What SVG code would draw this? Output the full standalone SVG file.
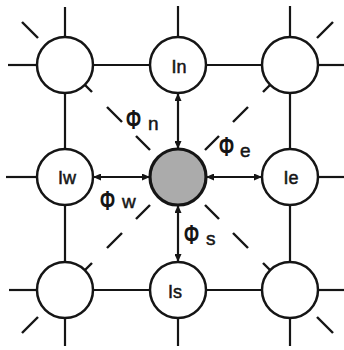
<svg xmlns="http://www.w3.org/2000/svg" width="344" height="350" viewBox="0 0 344 350">
  <style>
    .ring { fill: #ffffff; stroke: #151515; stroke-width: 2.5; }
    .hub { fill: #ababab; stroke: #151515; stroke-width: 3.2; }
    .edge { stroke: #151515; stroke-width: 2.2; fill: none; }
    .flux { stroke: #151515; stroke-width: 2.2; fill: none; marker-start: url(#tip); marker-end: url(#tip); }
    .dash { stroke: #151515; stroke-width: 2.4; stroke-linecap: butt; }
    .lbl { font-family: "Liberation Sans", Arial, sans-serif; font-size: 18px; fill: #151515; stroke: #151515; stroke-width: 0.5; text-anchor: middle; }
    .phi { font-family: "Liberation Sans", Arial, sans-serif; font-size: 27px; font-weight: bold; fill: #151515; }
    .sub { font-family: "Liberation Sans", Arial, sans-serif; font-size: 19px; fill: #151515; stroke: #151515; stroke-width: 0.5; }
  </style>
  <defs>
    <marker id="tip" viewBox="0 0 8 7" refX="8" refY="3.5" markerWidth="8" markerHeight="7" markerUnits="userSpaceOnUse" orient="auto-start-reverse">
      <path d="M0,0 L8,3.5 L0,7 z" fill="#151515"/>
    </marker>
  </defs>
  <rect width="344" height="350" fill="#ffffff"/>

  <!-- grid connectors, outer stubs and diagonal dashes -->
  <g id="connectors">
    <!-- grid lines between neighbours -->
    <line class="edge" x1="93" y1="65" x2="150" y2="65"/>
    <line class="edge" x1="206" y1="65" x2="262" y2="65"/>
    <line class="edge" x1="93" y1="290" x2="150" y2="290"/>
    <line class="edge" x1="206" y1="290" x2="262" y2="290"/>
    <line class="edge" x1="65" y1="93" x2="65" y2="149"/>
    <line class="edge" x1="65" y1="205" x2="65" y2="262"/>
    <line class="edge" x1="290" y1="93" x2="290" y2="149"/>
    <line class="edge" x1="290" y1="205" x2="290" y2="262"/>
    <!-- outer stubs -->
    <line class="edge" x1="65" y1="7" x2="65" y2="37"/>
    <line class="edge" x1="8" y1="65" x2="37" y2="65"/>
    <line class="edge" x1="178" y1="6" x2="178" y2="37"/>
    <line class="edge" x1="290" y1="6" x2="290" y2="37"/>
    <line class="edge" x1="318" y1="65" x2="344" y2="65"/>
    <line class="edge" x1="6" y1="177" x2="37" y2="177"/>
    <line class="edge" x1="318" y1="177" x2="344" y2="177"/>
    <line class="edge" x1="9" y1="290" x2="37" y2="290"/>
    <line class="edge" x1="65" y1="318" x2="65" y2="346"/>
    <line class="edge" x1="178" y1="318" x2="178" y2="346"/>
    <line class="edge" x1="290" y1="318" x2="290" y2="346"/>
    <line class="edge" x1="318" y1="290" x2="344" y2="290"/>
    <!-- flux arrows to the central cell -->
    <line class="flux" x1="178" y1="93" x2="178" y2="149"/>
    <line class="flux" x1="178" y1="262" x2="178" y2="205"/>
    <line class="flux" x1="93" y1="177" x2="150" y2="177"/>
    <line class="flux" x1="262" y1="177" x2="206" y2="177"/>
    <!-- diagonal dashes, top-left -->
    <line class="dash" x1="38" y1="38" x2="22" y2="22"/>
    <line class="dash" x1="85" y1="85" x2="92" y2="92"/>
    <line class="dash" x1="107" y1="107" x2="122" y2="122"/>
    <line class="dash" x1="136" y1="136" x2="150" y2="150"/>
    <!-- diagonal dashes, top-right -->
    <line class="dash" x1="317" y1="38" x2="333" y2="22"/>
    <line class="dash" x1="270" y1="85" x2="263" y2="92"/>
    <line class="dash" x1="248" y1="107" x2="233" y2="122"/>
    <line class="dash" x1="219" y1="136" x2="205" y2="150"/>
    <!-- diagonal dashes, bottom-left -->
    <line class="dash" x1="38" y1="317" x2="22" y2="333"/>
    <line class="dash" x1="85" y1="270" x2="92" y2="263"/>
    <line class="dash" x1="107" y1="248" x2="122" y2="233"/>
    <line class="dash" x1="136" y1="219" x2="150" y2="205"/>
    <!-- diagonal dashes, bottom-right -->
    <line class="dash" x1="317" y1="317" x2="333" y2="333"/>
    <line class="dash" x1="270" y1="270" x2="263" y2="263"/>
    <line class="dash" x1="248" y1="248" x2="233" y2="233"/>
    <line class="dash" x1="219" y1="219" x2="205" y2="205"/>
  </g>

  <!-- cells -->
  <g id="cell-nw"><circle class="ring" cx="65" cy="65" r="28"/></g>
  <g id="cell-n"><circle class="ring" cx="178" cy="65" r="28"/><text class="lbl" x="179" y="73">In</text></g>
  <g id="cell-ne"><circle class="ring" cx="290" cy="65" r="28"/></g>
  <g id="cell-w"><circle class="ring" cx="65" cy="177" r="28"/><text class="lbl" x="67" y="184">Iw</text></g>
  <g id="cell-c"><circle class="hub" cx="178" cy="177" r="28"/></g>
  <g id="cell-e"><circle class="ring" cx="290" cy="177" r="28"/><text class="lbl" x="291" y="184">Ie</text></g>
  <g id="cell-sw"><circle class="ring" cx="65" cy="290" r="28"/></g>
  <g id="cell-s"><circle class="ring" cx="178" cy="290" r="28"/><text class="lbl" x="175" y="298">Is</text></g>
  <g id="cell-se"><circle class="ring" cx="290" cy="290" r="28"/></g>

  <!-- flux labels -->
  <g id="flux-labels">
    <text class="phi" x="126" y="129" textLength="15" lengthAdjust="spacingAndGlyphs">Φ</text>
    <text class="sub" x="148" y="130">n</text>
    <text class="phi" x="219" y="156" textLength="15" lengthAdjust="spacingAndGlyphs">Φ</text>
    <text class="sub" x="240" y="157">e</text>
    <text class="phi" x="100" y="210" textLength="15" lengthAdjust="spacingAndGlyphs">Φ</text>
    <text class="sub" x="122" y="208">w</text>
    <text class="phi" x="184" y="244" textLength="15" lengthAdjust="spacingAndGlyphs">Φ</text>
    <text class="sub" x="206" y="245">s</text>
  </g>
</svg>
